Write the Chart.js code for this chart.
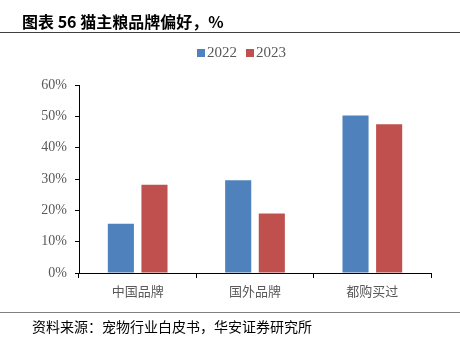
<!DOCTYPE html>
<html>
<head>
<meta charset="utf-8">
<script src="https://cdn.jsdelivr.net/npm/chart.js@4"></script>
<style>
  html, body { margin: 0; padding: 0; background: #fff; }
  #wrap { position: relative; width: 460px; height: 339px; overflow: hidden; }
  #title { position: absolute; left: 22px; top: 9px; font: bold 16px "Noto Sans CJK SC", sans-serif; color: #000; white-space: nowrap; }
  .rule { position: absolute; left: 0; width: 460px; height: 1px; }
  #topRule { top: 32px; background: #404040; }
  #bottomRule { top: 312px; background: #7f7f7f; }
  #source { position: absolute; left: 32px; top: 316px; font: 14px "Noto Sans CJK SC", sans-serif; color: #000; white-space: nowrap; }
  #legend { position: absolute; top: 44px; left: 197px; font: 15px "Liberation Serif", serif; color: #595959; white-space: nowrap; }
  #legend span.sw { display: inline-block; width: 8px; height: 8px; margin-right: 2px; }
  #legend span.item { margin-right: 9px; }
  canvas { position: absolute; left: 0; top: 0; }
</style>
</head>
<body>
<div id="wrap">
  <canvas id="myChart" width="460" height="339"></canvas>
  <div id="title">图表 56 猫主粮品牌偏好，%</div>
  <div class="rule" id="topRule"></div>
  <div id="legend"></div>
  <div class="rule" id="bottomRule"></div>
  <div id="source">资料来源：宠物行业白皮书，华安证券研究所</div>
</div>
<script>
const categories = ["中国品牌", "国外品牌", "都购买过"]
const seriesNames = ["2022", "2023"]
const values2022 = [15.7, 29.6, 50.3]
const values2023 = [28.2, 19.0, 47.5]
const yTicks = [0, 10, 20, 30, 40, 50, 60]

const colors = ['#4F81BD', '#C0504D']

const legend = document.getElementById('legend')
seriesNames.forEach((n, i) => {
	const item = document.createElement('span')
	item.className = 'item'
	const sw = document.createElement('span')
	sw.className = 'sw'
	sw.style.background = colors[i]
	item.appendChild(sw)
	item.appendChild(document.createTextNode(n))
	legend.appendChild(item)
})

const ctx = document.getElementById('myChart').getContext('2d')
new Chart(ctx, {
	type: 'bar',
	data: {
		labels: categories,
		datasets: [
			{ label: seriesNames[0], data: values2022, backgroundColor: colors[0] },
			{ label: seriesNames[1], data: values2023, backgroundColor: colors[1] }
		]
	},
	options: {
		responsive: false,
		animation: false,
		categoryPercentage: 0.573,
		barPercentage: 0.776,
		layout: { padding: { top: 85, right: 29, left: 0, bottom: 0 } },
		plugins: { legend: { display: false }, tooltip: { enabled: false } },
		scales: {
			x: {
				afterFit: s => { s.height = 66 },
				grid: { offset: true, drawOnChartArea: false, tickLength: 5, color: '#000' },
				border: { color: '#000', width: 1 },
				ticks: { padding: 5, color: '#595959', font: { family: '"Noto Sans CJK SC"', size: 13 } }
			},
			y: {
				min: yTicks[0],
				max: yTicks[yTicks.length - 1],
				afterFit: s => { s.width = 79 },
				afterBuildTicks: s => { s.ticks = yTicks.map(v => ({ value: v })) },
				grid: { drawOnChartArea: false, tickLength: 4, color: '#000' },
				border: { color: '#000', width: 1 },
				ticks: { padding: 8, color: '#595959', font: { family: '"Liberation Serif"', size: 14 }, callback: v => v + '%' }
			}
		}
	}
})
</script>
</body>
</html>
